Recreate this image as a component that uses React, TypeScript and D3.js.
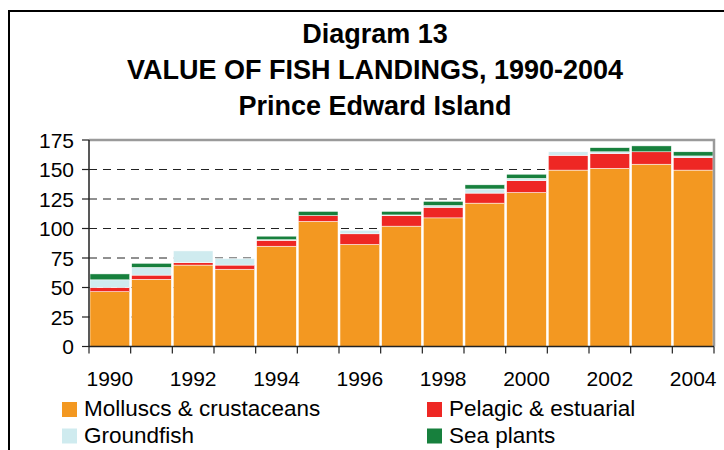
import React from "react";
import * as d3 from "d3";

const years = [1990,1991,1992,1993,1994,1995,1996,1997,1998,1999,2000,2001,2002,2003,2004];
const molluscs = [46.5,57,69,65.5,85,106,86.5,102,109,121.5,130.5,149.5,151,154.5,149.5];
const pelagic = [3.5,3.5,2,3.5,5,5,9,9,9,8.5,10,12.5,12.5,10.5,10.5];
const groundfish = [6.5,6.5,10,5.5,0.5,0,3,0.5,1.5,3.5,2,3,1.5,0,1.5];
const seaPlants = [5,3.5,0,0,3,3.5,0,3,3.5,3.5,3.5,0,3.5,5,3.5];
const seriesNames = ["Molluscs & crustaceans","Pelagic & estuarial","Groundfish","Sea plants"];
const seriesColors = ["#F39821","#EE2724","#CFEBEF","#17803D"];
const yTicks = [0,25,50,75,100,125,150,175];
const xLabelYears = [1990,1992,1994,1996,1998,2000,2002,2004];
const titleLines = ["Diagram 13","VALUE OF FISH LANDINGS, 1990-2004","Prince Edward Island"];

export default function App() {
  const W = 724, H = 450;
  const left = 89, right = 714, top = 140, bottom = 346.5;
  const x = d3.scaleBand<number>().domain(years).range([left, right]).padding(0);
  const y = d3.scaleLinear().domain([0, 175]).range([bottom, top]);
  const table = years.map((yr, i) => ({ year: yr, s0: molluscs[i], s1: pelagic[i], s2: groundfish[i], s3: seaPlants[i] }));
  const stack = d3.stack<any>().keys(["s0","s1","s2","s3"]);
  const layers = stack(table);
  const font = "Arial, 'Liberation Sans', Helvetica, sans-serif";
  const bw = x.bandwidth();
  const ticksX = d3.range(years.length + 1).map(i => left + i * bw);

  return (
    <svg width={W} height={H} style={{ position: "absolute", left: 0, top: 0, background: "#fff" }} fontFamily={font}>
      <rect x={0} y={0} width={W} height={H} fill="#fff" />
      {/* outer frame */}
      <path d={`M9,${H + 5} L9,11 L${W + 5},11`} fill="none" stroke="#000" strokeWidth={2} />
      {/* titles */}
      {titleLines.map((t, i) => (
        <text key={i} x={375} y={43 + i * 36} textAnchor="middle" fontWeight="bold" fontSize={27} fill="#000">{t}</text>
      ))}
      {/* gridlines */}
      {yTicks.filter(v => v > 0 && v < 175).map(v => (
        <line key={v} x1={left} x2={right} y1={y(v)} y2={y(v)} stroke="#222" strokeWidth={1} strokeDasharray="8,6" />
      ))}
      {/* bars */}
      {layers.map((layer, li) => (
        <g key={li} fill={seriesColors[li]}>
          {layer.map((d, i) => {
            const h = y(d[0]) - y(d[1]);
            if (h <= 0.01) return null;
            return (
              <rect key={i} x={(x(years[i]) as number) + 1} width={bw - 2} y={y(d[1])} height={h}
                stroke="#fff" strokeWidth={0.5} />
            );
          })}
        </g>
      ))}
      {/* plot border top/right */}
      <path d={`M${left},${top} L${right},${top} L${right},${bottom}`} fill="none" stroke="#9a9a9a" strokeWidth={2.5} />
      {/* y axis */}
      <line x1={left} x2={left} y1={top} y2={bottom} stroke="#222" strokeWidth={1.5} />
      {yTicks.map(v => (
        <g key={v}>
          <line x1={left - 7} x2={left} y1={y(v)} y2={y(v)} stroke="#222" strokeWidth={1.2} />
          <text x={74} y={y(v)} dy="0.36em" textAnchor="end" fontSize={21} fill="#000">{v}</text>
        </g>
      ))}
      {/* x axis */}
      <line x1={left} x2={right} y1={bottom} y2={bottom} stroke="#222" strokeWidth={1.5} />
      {ticksX.map((tx, i) => (
        <line key={i} x1={tx} x2={tx} y1={bottom} y2={bottom + 7} stroke="#222" strokeWidth={1.2} />
      ))}
      {xLabelYears.map(yr => (
        <text key={yr} x={(x(yr) as number) + bw / 2} y={386} textAnchor="middle" fontSize={21} fill="#000">{yr}</text>
      ))}
      {/* legend */}
      {seriesNames.map((name, i) => {
        const col = i === 0 || i === 2 ? 0 : 1;
        const row = i < 2 ? 0 : 1;
        const lx = col === 0 ? 62 : 427;
        const ly = 402 + row * 26.5;
        return (
          <g key={name}>
            <rect x={lx} y={ly} width={15} height={15} fill={seriesColors[i]} />
            <text x={lx + 22} y={ly + 14} fontSize={22.5} fill="#000">{name}</text>
          </g>
        );
      })}
    </svg>
  );
}
